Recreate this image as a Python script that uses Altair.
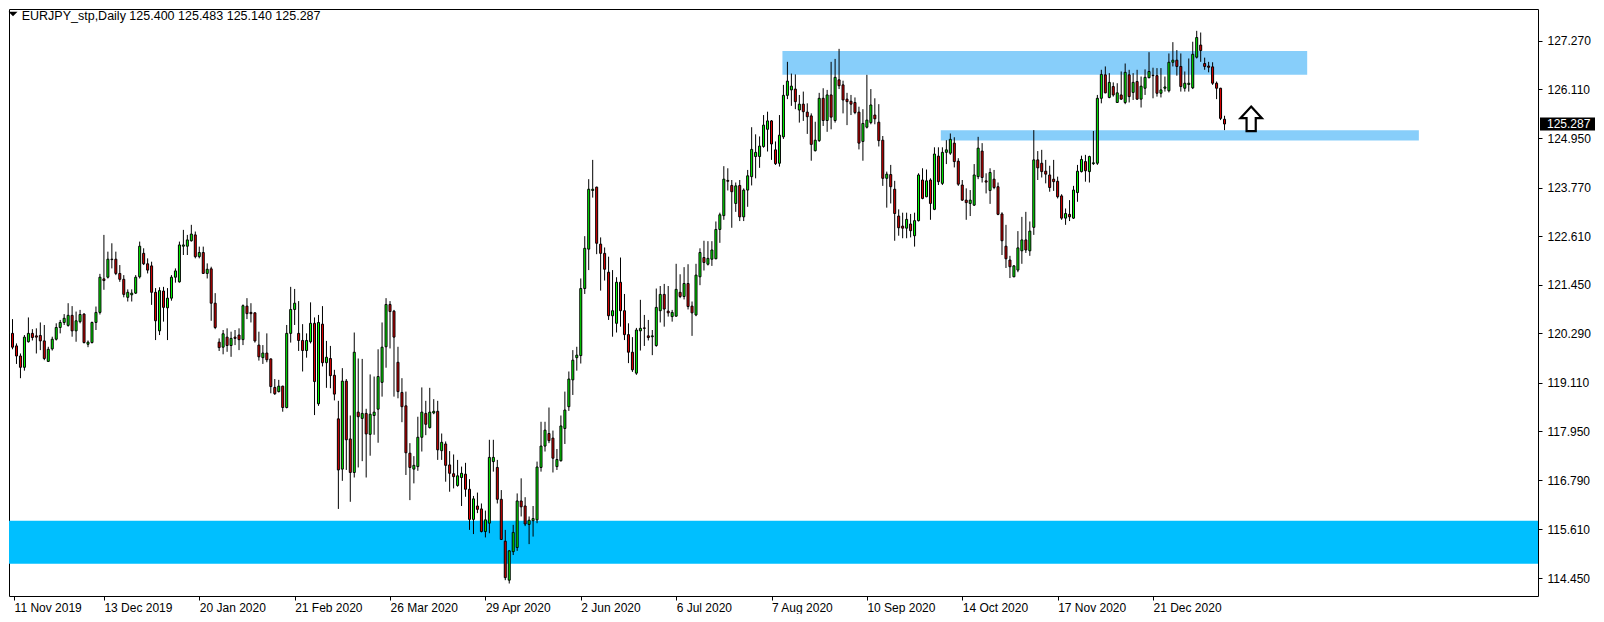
import json
import altair as alt
import pandas as pd

symbol = "EURJPY_stp"
timeframe = "Daily"

opens = [
    120.29, 120.29, 119.99, 119.75, 119.48, 120.09, 120.29, 120.23, 120.24, 120.11,
    119.62, 119.92, 120.15, 120.43, 120.55, 120.48, 120.72, 120.35, 120.57, 120.75,
    120.03, 120.07, 120.55, 120.79, 121.59, 121.63, 122.06, 122.06, 121.72, 121.58,
    121.15, 121.21, 121.25, 121.64, 122.20, 121.95, 121.90, 121.27, 120.35, 121.30,
    120.90, 121.13, 121.63, 121.52, 122.37, 122.37, 122.50, 122.64, 122.12, 122.22,
    121.72, 121.83, 121.01, 120.08, 119.96, 120.20, 120.00, 120.20, 120.25, 120.14,
    120.94, 120.79, 120.78, 120.01, 119.71, 119.82, 119.68, 119.00, 118.90, 119.03,
    118.52, 120.29, 120.86, 120.29, 120.12, 119.88, 120.09, 120.53, 118.61, 120.51,
    119.59, 119.69, 119.29, 118.25, 117.05, 119.15, 117.77, 116.97, 118.41, 118.26,
    118.38, 117.88, 118.33, 118.48, 119.12, 119.97, 120.98, 120.82, 119.60, 118.88,
    118.56, 117.43, 117.05, 117.11, 117.81, 118.38, 118.04, 118.39, 118.43, 117.49,
    117.65, 117.15, 116.94, 116.66, 116.85, 116.93, 116.57, 115.85, 116.17, 116.10,
    115.56, 115.76, 117.23, 117.09, 116.33, 115.33, 114.40, 115.08, 115.18, 116.29,
    116.17, 115.73, 115.82, 115.84, 117.09, 117.60, 117.90, 117.79, 117.11, 117.25,
    118.02, 118.54, 119.18, 119.71, 119.76, 121.36, 122.30, 123.70, 123.78, 122.42,
    122.20, 121.75, 120.71, 120.53, 121.51, 120.83, 120.26, 119.84, 119.34, 120.35,
    120.42, 120.23, 120.21, 120.00, 120.83, 121.22, 120.82, 120.69, 120.70, 121.27,
    121.17, 121.48, 120.94, 120.73, 121.64, 122.10, 121.94, 122.06, 122.07, 122.77,
    123.10, 123.94, 123.82, 123.39, 123.82, 123.07, 123.71, 124.03, 124.51, 124.51,
    124.75, 125.16, 125.36, 124.67, 124.35, 124.98, 125.97, 126.10, 126.12, 125.62,
    125.76, 125.57, 125.48, 124.65, 124.89, 125.90, 125.37, 125.98, 125.37, 126.34,
    126.22, 125.88, 125.83, 125.80, 125.57, 124.87, 125.21, 125.32, 125.50, 125.33,
    124.90, 123.99, 124.08, 123.73, 123.09, 122.85, 122.80, 122.90, 122.62, 122.98,
    123.95, 123.55, 123.95, 123.25, 124.52, 123.87, 124.61, 124.59, 124.83, 124.40,
    123.83, 123.47, 123.39, 123.35, 124.03, 124.64, 123.93, 123.70, 123.97, 123.79,
    123.14, 122.37, 122.04, 121.64, 121.80, 122.26, 122.52, 122.26, 122.82, 124.43,
    124.35, 124.16, 124.07, 123.97, 123.92, 123.57, 123.04, 123.13, 123.04, 123.65,
    124.15, 124.39, 124.15, 124.34, 124.35, 125.90, 126.46, 125.92, 126.18, 125.80,
    125.98, 125.80, 126.46, 126.04, 126.30, 125.88, 126.14, 126.39, 126.45, 126.44,
    126.02, 126.14, 126.08, 126.76, 126.81, 126.66, 126.14, 126.23, 126.15, 126.88,
    127.17, 126.73, 126.67, 126.65, 126.26, 126.14, 125.400,
]

highs = [
    120.43, 120.63, 120.05, 119.81, 120.25, 120.67, 120.39, 120.41, 120.55, 120.49,
    119.97, 120.21, 120.53, 120.61, 120.75, 121.01, 120.94, 120.81, 120.85, 120.77,
    120.12, 120.57, 120.93, 121.71, 122.64, 122.24, 122.44, 122.24, 121.92, 121.68,
    121.34, 121.34, 121.68, 122.48, 122.32, 122.08, 122.00, 121.37, 121.39, 121.40,
    121.37, 121.68, 121.84, 122.48, 122.76, 122.64, 122.88, 122.72, 122.36, 122.36,
    121.96, 121.88, 121.25, 120.17, 120.37, 120.41, 120.33, 120.37, 120.41, 120.98,
    121.13, 121.01, 120.79, 120.33, 120.01, 120.29, 119.69, 119.20, 119.18, 119.04,
    120.49, 121.40, 121.35, 121.06, 120.51, 120.29, 121.03, 120.67, 120.73, 120.94,
    120.11, 119.99, 119.42, 118.68, 119.46, 119.20, 118.33, 120.31, 119.69, 119.68,
    118.49, 119.31, 119.26, 119.91, 120.55, 121.13, 121.06, 120.85, 119.97, 119.22,
    118.90, 117.67, 117.36, 118.30, 119.00, 118.68, 118.99, 118.72, 118.68, 117.90,
    117.71, 117.48, 117.40, 117.27, 117.11, 117.20, 116.81, 116.41, 116.49, 116.23,
    116.06, 117.75, 117.75, 117.27, 116.55, 115.60, 115.12, 115.72, 116.47, 116.83,
    116.38, 115.92, 116.17, 117.23, 118.18, 118.18, 118.52, 117.97, 117.53, 118.33,
    118.90, 119.38, 119.89, 119.97, 121.60, 122.61, 123.97, 124.43, 123.79, 122.58,
    122.34, 122.12, 121.80, 121.63, 122.10, 121.23, 120.53, 120.20, 120.42, 121.09,
    120.73, 120.61, 120.37, 121.36, 121.42, 121.47, 121.42, 120.85, 121.95, 121.70,
    121.87, 121.94, 121.05, 121.95, 122.32, 122.50, 122.49, 122.49, 122.96, 123.17,
    124.28, 124.23, 123.95, 123.89, 123.95, 123.75, 124.19, 125.21, 125.04, 124.99,
    125.50, 125.58, 125.38, 124.87, 125.50, 126.22, 126.77, 126.49, 126.47, 125.98,
    126.06, 125.78, 125.54, 125.34, 126.03, 126.14, 126.10, 126.77, 126.84, 127.08,
    126.32, 126.03, 125.98, 125.92, 125.70, 125.64, 126.46, 126.12, 125.90, 125.76,
    125.00, 124.15, 124.31, 123.93, 123.25, 123.17, 123.17, 123.14, 123.17, 124.11,
    124.23, 124.20, 123.99, 124.73, 124.73, 124.73, 124.90, 125.06, 124.97, 124.47,
    123.95, 123.75, 123.71, 124.33, 124.98, 124.83, 124.11, 124.23, 124.19, 123.89,
    123.18, 122.88, 122.14, 121.92, 122.73, 123.07, 123.19, 122.96, 125.14, 124.64,
    124.67, 124.43, 124.29, 124.43, 124.03, 123.61, 123.27, 123.47, 123.81, 124.31,
    124.53, 124.55, 124.53, 125.12, 125.98, 126.58, 126.66, 126.50, 126.28, 126.26,
    126.54, 126.73, 126.58, 126.50, 126.58, 126.42, 126.59, 127.00, 126.63, 126.62,
    126.62, 126.42, 126.97, 127.24, 127.05, 126.97, 126.54, 126.85, 127.25, 127.51,
    127.47, 126.87, 126.77, 126.76, 126.30, 126.15, 125.483,
]

lows = [
    120.05, 119.91, 119.56, 119.22, 119.40, 120.07, 120.12, 119.81, 119.89, 119.65,
    119.61, 119.88, 120.12, 120.29, 120.49, 120.45, 120.21, 120.09, 120.53, 120.05,
    119.96, 120.05, 120.37, 120.74, 121.33, 121.60, 121.84, 121.68, 121.52, 121.15,
    121.05, 121.05, 121.23, 121.60, 121.92, 121.72, 120.97, 120.13, 120.25, 120.57,
    120.13, 121.07, 121.50, 121.50, 122.16, 122.16, 122.48, 122.08, 122.08, 121.71,
    121.60, 120.59, 120.39, 119.87, 119.79, 119.85, 119.73, 120.01, 119.89, 120.01,
    120.63, 120.55, 120.07, 119.64, 119.56, 119.60, 118.86, 118.82, 118.88, 118.42,
    118.50, 120.07, 120.49, 119.87, 119.38, 119.71, 120.05, 118.34, 118.56, 119.50,
    118.99, 118.98, 118.69, 116.10, 116.77, 117.03, 116.27, 116.85, 117.09, 117.24,
    116.85, 117.37, 117.87, 117.68, 118.78, 119.47, 119.93, 118.78, 118.74, 118.17,
    116.91, 116.31, 116.71, 117.01, 117.47, 117.86, 118.02, 118.36, 117.27, 117.27,
    116.75, 116.51, 116.59, 116.63, 116.17, 116.39, 115.60, 115.50, 116.00, 115.54,
    115.42, 115.52, 116.99, 116.23, 115.36, 114.40, 114.32, 115.00, 115.10, 115.92,
    115.69, 115.26, 115.44, 115.76, 116.99, 117.47, 117.67, 116.97, 117.03, 117.23,
    117.65, 118.44, 118.82, 119.40, 119.57, 121.23, 121.80, 123.53, 122.18, 121.31,
    121.55, 120.61, 120.21, 120.31, 120.45, 120.13, 119.58, 119.37, 119.30, 119.88,
    119.99, 120.12, 119.77, 119.97, 120.55, 120.45, 120.69, 120.57, 120.69, 121.13,
    121.10, 120.86, 120.23, 120.70, 121.44, 121.79, 121.91, 121.90, 122.06, 122.45,
    123.00, 123.70, 122.81, 123.19, 122.97, 122.97, 123.31, 123.82, 123.99, 124.24,
    124.72, 124.63, 124.43, 124.31, 124.27, 124.93, 125.88, 125.72, 125.64, 125.32,
    125.36, 125.05, 124.41, 124.63, 124.86, 125.24, 125.10, 125.16, 125.32, 126.12,
    125.54, 125.26, 125.50, 125.52, 124.68, 124.41, 125.18, 125.28, 125.28, 124.75,
    123.81, 123.29, 123.39, 122.50, 122.62, 122.56, 122.56, 122.58, 122.36, 122.96,
    123.49, 123.54, 123.00, 123.23, 123.83, 123.83, 124.33, 124.55, 124.25, 123.81,
    123.45, 123.00, 123.09, 123.33, 123.97, 123.89, 123.63, 123.38, 123.73, 123.11,
    122.16, 121.85, 121.61, 121.63, 121.75, 121.95, 122.21, 122.14, 122.64, 123.95,
    124.01, 123.87, 123.67, 123.69, 123.51, 123.00, 122.88, 122.97, 123.02, 123.43,
    124.13, 123.91, 123.89, 124.31, 124.31, 125.78, 126.02, 125.90, 125.94, 125.79,
    125.86, 125.76, 125.80, 125.86, 125.86, 125.68, 125.98, 126.38, 125.90, 125.94,
    125.92, 126.06, 126.04, 126.66, 126.44, 126.06, 126.06, 126.06, 126.12, 126.85,
    126.77, 126.58, 126.52, 126.22, 125.88, 125.38, 125.140,
]

closes = [
    120.32, 119.96, 119.75, 119.48, 120.20, 120.29, 120.19, 120.20, 120.11, 119.69,
    119.91, 120.15, 120.43, 120.55, 120.65, 120.72, 120.35, 120.59, 120.74, 120.07,
    120.08, 120.55, 120.79, 121.63, 121.55, 122.06, 122.05, 121.72, 121.58, 121.22,
    121.27, 121.25, 121.63, 122.37, 121.95, 121.80, 121.27, 120.59, 121.31, 120.91,
    121.13, 121.63, 121.78, 122.40, 122.40, 122.52, 122.66, 122.12, 122.22, 121.72,
    121.82, 121.01, 120.43, 119.95, 120.28, 120.00, 120.17, 120.17, 120.14, 120.95,
    120.76, 120.76, 120.11, 119.73, 119.82, 119.66, 119.02, 118.85, 119.03, 118.52,
    120.29, 120.86, 121.01, 120.12, 119.88, 120.12, 120.53, 119.14, 120.55, 119.59,
    119.72, 119.28, 118.84, 117.03, 119.15, 117.75, 116.97, 119.84, 118.30, 118.38,
    117.89, 118.36, 118.41, 119.26, 119.96, 120.98, 120.81, 120.20, 118.90, 118.54,
    117.44, 117.09, 117.14, 117.81, 118.41, 118.12, 118.41, 118.43, 117.51, 117.69,
    117.14, 116.95, 116.87, 116.89, 116.95, 116.57, 115.85, 116.34, 116.09, 115.56,
    115.84, 117.33, 117.33, 116.33, 115.37, 114.46, 115.10, 115.54, 116.29, 116.15,
    115.74, 115.83, 115.87, 117.10, 117.60, 117.98, 117.73, 117.31, 117.28, 118.08,
    118.46, 119.20, 119.65, 119.77, 121.36, 122.32, 123.73, 123.73, 122.44, 122.20,
    121.82, 120.71, 120.83, 121.51, 120.83, 120.26, 119.84, 119.42, 120.37, 120.41,
    120.41, 120.19, 120.23, 120.91, 121.22, 120.87, 120.78, 120.79, 121.34, 121.17,
    121.48, 120.93, 120.78, 121.68, 122.22, 121.98, 122.08, 122.28, 122.77, 123.12,
    123.97, 123.92, 123.67, 123.81, 123.07, 123.71, 124.05, 124.68, 124.61, 124.76,
    125.26, 125.36, 124.81, 124.34, 125.02, 125.97, 126.31, 126.19, 125.82, 125.76,
    125.58, 125.46, 124.80, 124.90, 125.90, 125.37, 125.98, 125.45, 126.40, 126.20,
    125.86, 125.82, 125.76, 125.56, 124.83, 125.30, 125.38, 125.74, 125.41, 124.89,
    123.99, 124.09, 123.79, 123.15, 122.81, 122.80, 123.01, 122.74, 122.98, 124.07,
    123.51, 123.93, 123.39, 124.57, 123.91, 124.61, 124.67, 124.92, 124.39, 123.85,
    123.47, 123.41, 123.47, 124.07, 124.71, 124.01, 123.90, 124.13, 123.77, 123.13,
    122.50, 122.07, 121.88, 121.90, 122.33, 122.52, 122.28, 122.73, 124.43, 124.24,
    124.15, 124.09, 123.77, 123.91, 123.55, 123.04, 123.15, 123.07, 123.71, 124.16,
    124.44, 124.17, 124.51, 124.36, 125.90, 126.47, 126.03, 126.28, 125.98, 126.03,
    125.88, 126.52, 125.94, 126.28, 125.88, 126.19, 126.40, 126.54, 126.44, 126.02,
    126.10, 126.17, 126.76, 126.81, 126.66, 126.18, 126.26, 126.26, 126.95, 127.35,
    127.04, 126.66, 126.64, 126.26, 126.14, 125.42, 125.287,
]

date_tick_bars = [0, 24, 48, 72, 96, 120, 144, 168, 192, 216, 240, 264, 288]
date_tick_labels = [
    "11 Nov 2019", "13 Dec 2019", "20 Jan 2020", "21 Feb 2020", "26 Mar 2020",
    "29 Apr 2020", "2 Jun 2020", "6 Jul 2020", "7 Aug 2020", "10 Sep 2020",
    "14 Oct 2020", "17 Nov 2020", "21 Dec 2020",
]
price_ticks = [127.270, 126.110, 124.950, 123.770, 122.610, 121.450,
               120.290, 119.110, 117.950, 116.790, 115.610, 114.450]

# supply / demand zones (bar index range, price range)
zone_start_bar = [194.75, 234.6, -10.0]
zone_end_bar = [326.8, 354.9, 400.0]
zone_high = [127.03, 125.14, 115.82]
zone_low = [126.46, 124.89, 114.79]
zone_fill = ["#87CEFA", "#87CEFA", "#00BFFF"]

arrow_bar = [312.7]
arrow_price = [125.41]

UP = "#00FF00"
DOWN = "#E00000"
FONT = "Liberation Sans"

n = len(opens)
candles = pd.DataFrame({"i": list(range(n)), "o": opens, "h": highs, "l": lows, "c": closes})
candles["dir"] = ["up" if c >= o else "down" for o, c in zip(opens, closes)]

zones = pd.DataFrame({"x0": zone_start_bar, "x1": zone_end_bar,
                      "top": zone_high, "bot": zone_low, "fill": zone_fill})
arrows = pd.DataFrame({"i": arrow_bar, "p": arrow_price})
last = pd.DataFrame({"p": [closes[-1]], "t": [f"{closes[-1]:.3f}"]})
title_df = pd.DataFrame({"t": [f"{symbol},{timeframe}  {opens[-1]:.3f} {highs[-1]:.3f} "
                               f"{lows[-1]:.3f} {closes[-1]:.3f}"]})

W, H = 1529, 587
x_scale = alt.Scale(domain=[1.375, 383.625], nice=False, zero=False)
y_scale = alt.Scale(domain=[114.022, 128.031], nice=False, zero=False)

label_expr = json.dumps(date_tick_labels) + "[round(datum.value / 24)]"
x_axis = alt.Axis(values=[max(v, 1.4) for v in date_tick_bars], labelExpr=label_expr,
                  title=None, grid=False, domain=False, ticks=True, tickSize=4,
                  tickColor="black", labelAlign="left", labelBaseline="top",
                  labelPadding=2, labelFlush=False, labelOverlap=False,
                  labelColor="black", labelFont=FONT, labelFontSize=12)
y_axis = alt.Axis(orient="right", values=price_ticks, format=".3f", title=None,
                  grid=False, domain=False, ticks=True, tickSize=4, tickColor="black",
                  labelAlign="left", labelBaseline="middle", labelPadding=5,
                  labelOverlap=False, labelFlush=False, labelColor="black",
                  labelFont=FONT, labelFontSize=12)


def X(field):
    return alt.X(f"{field}:Q", scale=x_scale, axis=x_axis)


def Y(field):
    return alt.Y(f"{field}:Q", scale=y_scale, axis=y_axis)


zone_layer = alt.Chart(zones).mark_rect(clip=True).encode(
    x=X("x0"), x2=alt.X2("x1"), y=Y("top"), y2=alt.Y2("bot"),
    color=alt.Color("fill:N", scale=None),
)

wicks = alt.Chart(candles).mark_rule(color="black", strokeWidth=1, clip=True).encode(
    x=X("i"), y=Y("l"), y2=alt.Y2("h"),
)

bodies = alt.Chart(candles).mark_bar(size=2, stroke="black", strokeWidth=1, clip=True).encode(
    x=X("i"), y=Y("o"), y2=alt.Y2("c"),
    color=alt.Color("dir:N", scale=alt.Scale(domain=["up", "down"], range=[UP, DOWN]), legend=None),
)

ARROW = "M0,-1L0.875,-0.05L0.375,-0.05L0.375,1L-0.375,1L-0.375,-0.05L-0.875,-0.05Z"
arrow_layer = alt.Chart(arrows).mark_point(
    shape=ARROW, size=600, filled=True, fill="white", stroke="black",
    strokeWidth=2.2, opacity=1,
).encode(x=X("i"), y=Y("p"))

price_box = alt.Chart(last).mark_rule(color="black", strokeWidth=13, strokeCap="butt").encode(
    x=alt.value(1531), x2=alt.value(1586), y=Y("p"),
)
price_text = alt.Chart(last).mark_text(
    color="white", align="left", baseline="middle", font=FONT, fontSize=12,
).encode(x=alt.value(1538), y=Y("p"), text="t:N")

tri = alt.Chart(title_df).mark_point(
    shape="M-1,-0.5L1,-0.5L0,0.5Z", size=81, filled=True, color="black", opacity=1,
).encode(x=alt.value(4), y=alt.value(5))

title_text = alt.Chart(title_df).mark_text(
    align="left", baseline="alphabetic", font=FONT, fontSize=12.5, color="black",
).encode(x=alt.value(12.7), y=alt.value(11), text="t:N")

chart = alt.layer(
    zone_layer, wicks, bodies, arrow_layer, price_box, price_text, tri, title_text
).properties(
    width=W, height=H,
    autosize=alt.AutoSizeParams(type="none"),
    padding={"left": 1, "top": 1, "right": 58, "bottom": 18},
    background="white",
).configure_view(stroke="black", strokeWidth=1)

chart.save("out.html", embed_options={"renderer": "svg", "actions": False})
